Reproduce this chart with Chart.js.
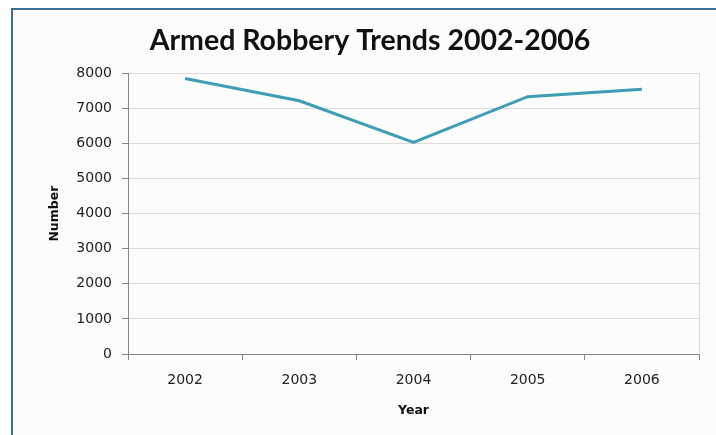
<!DOCTYPE html>
<html>
<head>
<meta charset="utf-8">
<script src="https://cdn.jsdelivr.net/npm/chart.js@4/dist/chart.umd.min.js"></script>
<style>
    html, body { margin: 0; padding: 0; background: #ffffff; overflow: hidden; }
    .frame {
        position: absolute; left: 11px; top: 8px; width: 740px; height: 440px;
        border-left: 2px solid #3a6f96; border-top: 2px solid #3a6f96;
        background: #fcfcfc;
    }
    .frame canvas { position: absolute; left: 0; top: 0; }
</style>
</head>
<body>
<div class="frame">
    <canvas id="robberyChart" width="716" height="425"></canvas>
</div>
<script>
// Chart data
const years = ['2002', '2003', '2004', '2005', '2006'];
const robberies = [7850, 7215, 6030, 7330, 7540];
const yTicks = [0, 1000, 2000, 3000, 4000, 5000, 6000, 7000, 8000];

document.addEventListener('DOMContentLoaded', function () {
    const axisGray = '#868686';
    const gridGray = '#dcdcdc';
    const labelFont = { family: 'DejaVu Sans', size: 14 };
    const titleFont = { family: 'DejaVu Sans', size: 12.5, weight: 'bold' };

    // right edge of the plot box
    const plotBorder = {
        id: 'plotBorder',
        beforeDatasetsDraw(chart) {
            const a = chart.chartArea;
            const ctx = chart.ctx;
            ctx.save();
            ctx.strokeStyle = gridGray;
            ctx.lineWidth = 1;
            ctx.beginPath();
            ctx.moveTo(a.right + 0.5, a.top);
            ctx.lineTo(a.right + 0.5, a.bottom);
            ctx.stroke();
            ctx.restore();
        }
    };

    const ctx = document.getElementById('robberyChart');
    new Chart(ctx, {
        type: 'line',
        data: {
            labels: years,
            datasets: [{
                label: 'Armed Robbery',
                data: robberies,
                borderColor: '#3f9db6',
                borderWidth: 3,
                pointRadius: 0,
                tension: 0,
                fill: false
            }]
        },
        options: {
            responsive: false,
            animation: false,
            layout: { padding: { left: 28, right: 30, top: 0, bottom: 0 } },
            plugins: {
                legend: { display: false },
                tooltip: { enabled: false },
                title: {
                    display: true,
                    text: 'Armed Robbery Trends 2002-2006',
                    color: '#111111',
                    font: { family: 'Lato', size: 28.5, weight: 'bold' },
                    padding: { top: 14, bottom: 15 }
                }
            },
            scales: {
                x: {
                    offset: true,
                    afterFit: function (scale) { scale.height = 81; },
                    grid: {
                        offset: true,
                        drawOnChartArea: false,
                        color: axisGray,
                        tickLength: 6
                    },
                    border: { color: axisGray },
                    ticks: { color: '#222222', font: labelFont, padding: 12 },
                    title: {
                        display: true,
                        text: 'Year',
                        color: '#111111',
                        font: titleFont,
                        padding: { top: 0, bottom: 17 }
                    }
                },
                y: {
                    min: 0,
                    max: 8000,
                    afterFit: function (scale) { scale.width = 87; },
                    afterBuildTicks: function (scale) {
                        scale.ticks = yTicks.map(v => ({ value: v }));
                    },
                    grid: {
                        color: gridGray,
                        tickColor: axisGray,
                        tickLength: 6
                    },
                    border: { color: axisGray },
                    ticks: {
                        color: '#222222',
                        font: labelFont,
                        padding: 10,
                        callback: function (value) { return String(value); }
                    },
                    title: {
                        display: true,
                        text: 'Number',
                        color: '#111111',
                        font: titleFont,
                        padding: { top: 6, bottom: 0 }
                    }
                }
            }
        },
        plugins: [plotBorder]
    });
});
</script>
</body>
</html>
